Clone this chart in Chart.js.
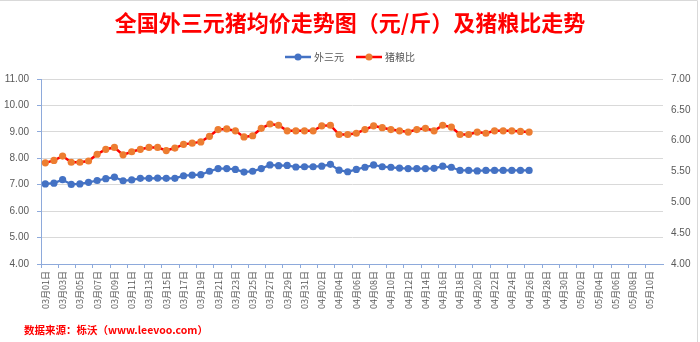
<!DOCTYPE html>
<html lang="zh-CN">
<head>
<meta charset="utf-8">
<title>全国外三元猪均价走势图</title>
<script src="https://cdn.jsdelivr.net/npm/chart.js@4.4.1/dist/chart.umd.min.js"></script>
<style>
  html, body { margin: 0; padding: 0; background: #fff; }
  #wrap { position: relative; width: 700px; height: 342px; }
</style>
</head>
<body>
<div id="wrap"><canvas id="chart"></canvas></div>
<script>
// 日期（每日一个分类，轴上隔一天显示）
const DATES = [
  "03月01日", "03月02日", "03月03日", "03月04日", "03月05日", "03月06日", "03月07日", "03月08日",
  "03月09日", "03月10日", "03月11日", "03月12日", "03月13日", "03月14日", "03月15日", "03月16日",
  "03月17日", "03月18日", "03月19日", "03月20日", "03月21日", "03月22日", "03月23日", "03月24日",
  "03月25日", "03月26日", "03月27日", "03月28日", "03月29日", "03月30日", "03月31日",
  "04月01日", "04月02日", "04月03日", "04月04日", "04月05日", "04月06日", "04月07日", "04月08日",
  "04月09日", "04月10日", "04月11日", "04月12日", "04月13日", "04月14日", "04月15日", "04月16日",
  "04月17日", "04月18日", "04月19日", "04月20日", "04月21日", "04月22日", "04月23日", "04月24日",
  "04月25日", "04月26日", "04月27日", "04月28日", "04月29日", "04月30日",
  "05月01日", "05月02日", "05月03日", "05月04日", "05月05日", "05月06日", "05月07日", "05月08日",
  "05月09日", "05月10日", "05月11日"
];

// 外三元均价（元/斤），左轴
const PRICE = [
  7.03, 7.06, 7.19, 7.01, 7.03, 7.09, 7.16, 7.23, 7.29, 7.15,
  7.18, 7.24, 7.24, 7.25, 7.24, 7.24, 7.34, 7.36, 7.38, 7.51,
  7.61, 7.61, 7.58, 7.48, 7.51, 7.61, 7.75, 7.72, 7.73, 7.67,
  7.68, 7.68, 7.70, 7.77, 7.55, 7.49, 7.58, 7.66, 7.75, 7.68,
  7.66, 7.63, 7.61, 7.61, 7.61, 7.62, 7.70, 7.66, 7.54, 7.54,
  7.52, 7.54, 7.54, 7.54, 7.54, 7.54, 7.54
];

// 猪粮比，右轴
const RATIO = [
  5.64, 5.68, 5.75, 5.65, 5.65, 5.67, 5.78, 5.86, 5.89, 5.77,
  5.82, 5.86, 5.89, 5.89, 5.84, 5.88, 5.94, 5.96, 5.98, 6.07,
  6.18, 6.19, 6.16, 6.06, 6.08, 6.20, 6.27, 6.25, 6.16, 6.16,
  6.16, 6.16, 6.24, 6.25, 6.10, 6.10, 6.12, 6.18, 6.24, 6.21,
  6.18, 6.16, 6.14, 6.18, 6.20, 6.16, 6.25, 6.22, 6.10, 6.10,
  6.14, 6.12, 6.16, 6.16, 6.16, 6.15, 6.14
];

const TITLE = "全国外三元猪均价走势图（元/斤）及猪粮比走势";
const SOURCE = "数据来源：栎沃（www.leevoo.com）";

const BLUE = "#4472C4";
const RED = "#FF0000";
const ORANGE = "#ED7D31";
const AXIS = "#8EAADB";
const GRID = "#D9D9D9";
const TEXT = "#595959";
const CJK = '"Noto Sans CJK SC", "Liberation Sans", sans-serif';
const NUM = '"Liberation Sans", "Noto Sans", sans-serif';

// 标题、图例、数据来源和外框
const decorations = {
  id: "decorations",
  afterDraw(chart) {
    const ctx = chart.ctx;
    ctx.save();

    ctx.strokeStyle = GRID;
    ctx.lineWidth = 1;
    ctx.beginPath();
    ctx.moveTo(0, 0.5);
    ctx.lineTo(697.5, 0.5);
    ctx.lineTo(697.5, 342);
    ctx.stroke();

    ctx.fillStyle = RED;
    ctx.font = "bold 22px " + CJK;
    ctx.textAlign = "center";
    ctx.textBaseline = "middle";
    ctx.fillText(TITLE, 350, 23);

    ctx.font = "bold 10.5px " + CJK;
    ctx.textAlign = "left";
    ctx.fillText(SOURCE, 24, 330);

    // 图例：线段 + 圆点 + 文字
    const items = chart.data.datasets.map(ds => ({
      text: ds.label, line: ds.borderColor, dot: ds.pointBackgroundColor
    }));
    ctx.font = "10px " + CJK;
    const lineW = 26, gap = 3, itemGap = 12;
    const widths = items.map(it => lineW + gap + ctx.measureText(it.text).width);
    const total = widths.reduce((a, b) => a + b, 0) + itemGap * (items.length - 1);
    let x = 350 - total / 2;
    const y = 57;
    items.forEach((it, i) => {
      ctx.strokeStyle = it.line;
      ctx.lineWidth = 2.5;
      ctx.beginPath();
      ctx.moveTo(x, y);
      ctx.lineTo(x + lineW, y);
      ctx.stroke();
      ctx.fillStyle = it.dot;
      ctx.beginPath();
      ctx.arc(x + lineW / 2, y, 3.5, 0, Math.PI * 2);
      ctx.fill();
      ctx.fillStyle = TEXT;
      ctx.textBaseline = "middle";
      ctx.fillText(it.text, x + lineW + gap, y);
      x += widths[i] + itemGap;
    });

    ctx.restore();
  }
};

new Chart(document.getElementById("chart"), {
  type: "line",
  data: {
    labels: DATES,
    datasets: [
      {
        label: "外三元",
        data: PRICE,
        yAxisID: "y",
        borderColor: BLUE,
        backgroundColor: BLUE,
        pointBackgroundColor: BLUE,
        pointBorderColor: BLUE,
        pointBorderWidth: 0,
        borderWidth: 2.25,
        pointRadius: 3.6,
        tension: 0,
      },
      {
        label: "猪粮比",
        data: RATIO,
        yAxisID: "y1",
        borderColor: RED,
        backgroundColor: ORANGE,
        pointBackgroundColor: ORANGE,
        pointBorderColor: ORANGE,
        pointBorderWidth: 0,
        borderWidth: 2.5,
        pointRadius: 3.6,
        tension: 0,
      },
    ],
  },
  options: {
    responsive: true,
    maintainAspectRatio: false,
    animation: false,
    layout: { padding: { top: 79, left: 0, right: 0, bottom: 0 } },
    plugins: {
      legend: { display: false },
      title: { display: false },
      tooltip: { enabled: false },
    },
    scales: {
      x: {
        type: "category",
        offset: true,
        afterFit(scale) { scale.height = 78; },
        border: { color: AXIS, width: 1 },
        grid: {
          offset: true,
          drawOnChartArea: false,
          tickLength: 4,
          tickColor: (c) => (c.index % 2 === 0 ? AXIS : "transparent"),
        },
        ticks: {
          autoSkip: false,
          minRotation: 90,
          maxRotation: 90,
          padding: 3,
          color: TEXT,
          font: { family: CJK, size: 9 },
          callback: (v, i) => (i % 2 === 0 ? DATES[i] : ""),
        },
      },
      y: {
        position: "left",
        min: 4,
        max: 11,
        afterFit(scale) { scale.width = 41; },
        border: { color: AXIS, width: 1 },
        grid: { color: GRID, tickLength: 4, tickColor: AXIS },
        ticks: {
          stepSize: 1,
          padding: 8,
          color: TEXT,
          font: { family: NUM, size: 10 },
          callback: (v) => v.toFixed(2),
        },
      },
      y1: {
        position: "right",
        min: 4,
        max: 7,
        afterFit(scale) { scale.width = 37; },
        border: { display: false },
        grid: { drawOnChartArea: false, drawTicks: false },
        ticks: {
          stepSize: 0.5,
          padding: 8,
          color: TEXT,
          font: { family: NUM, size: 10 },
          callback: (v) => v.toFixed(2),
        },
      },
    },
  },
  plugins: [decorations],
});
</script>
</body>
</html>
